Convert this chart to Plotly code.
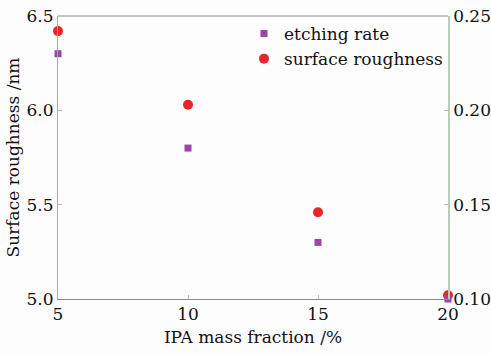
import plotly.graph_objects as go

ipa_fraction = [5, 10, 15, 20]
surface_roughness = [6.42, 6.03, 5.46, 5.02]   # nm, left axis
etching_rate = [0.23, 0.18, 0.13, 0.10]        # right axis

FONT = "DejaVu Serif, Times New Roman, serif"

fig = go.Figure()
fig.add_trace(go.Scatter(
    x=ipa_fraction, y=etching_rate, mode="markers", name="etching rate",
    marker=dict(symbol="square", size=7, color="#9b45a8"),
    yaxis="y2", cliponaxis=False,
))
fig.add_trace(go.Scatter(
    x=ipa_fraction, y=surface_roughness, mode="markers", name="surface roughness",
    marker=dict(symbol="circle", size=10, color="#e8262a"),
    yaxis="y", cliponaxis=False,
))

fig.update_layout(
    width=491, height=355,
    margin=dict(l=58, r=43, t=16, b=56),
    paper_bgcolor="#fdfdfd", plot_bgcolor="#fdfdfd",
    font=dict(family=FONT, size=17, color="#111"),
    showlegend=True,
    legend=dict(x=1.0, xanchor="right", y=1.0, yanchor="top",
                bgcolor="rgba(0,0,0,0)", borderwidth=0,
                font=dict(family=FONT, size=17), itemwidth=30,
                tracegroupgap=0),
    xaxis=dict(
        range=[5, 20], tickvals=[5, 10, 15, 20], ticks="inside", ticklen=4,
        tickcolor="#bbb", showline=True, linecolor="#8a8a8a", linewidth=1,
        showgrid=False, zeroline=False, automargin=False,
        title=dict(text="IPA mass fraction /%", standoff=7, font=dict(family=FONT, size=17)),
        tickfont=dict(family=FONT, size=17),
    ),
    yaxis=dict(
        range=[5.0, 6.5], tickvals=[5.0, 5.5, 6.0, 6.5], tickformat=".1f",
        ticks="inside", ticklen=4, tickcolor="#bbb",
        showline=True, linecolor="#aaa2cc", linewidth=1,
        showgrid=False, zeroline=False, automargin=False,
        title=dict(text="Surface roughness /nm", standoff=2, font=dict(family=FONT, size=17)),
        tickfont=dict(family=FONT, size=17),
    ),
    yaxis2=dict(
        overlaying="y", side="right", range=[0.10, 0.25],
        tickvals=[0.10, 0.15, 0.20, 0.25], tickformat=".2f",
        ticks="inside", ticklen=4, tickcolor="#bbb",
        showline=True, linecolor="#b7cdb5", linewidth=1.5,
        showgrid=False, zeroline=False, automargin=False,
        tickfont=dict(family=FONT, size=17),
    ),
    # upper frame line
    shapes=[dict(type="line", xref="paper", yref="paper", x0=0, x1=1, y0=1, y1=1,
                 line=dict(color="#8a8a8a", width=1), layer="below")],
)

fig.write_html("out.html")
